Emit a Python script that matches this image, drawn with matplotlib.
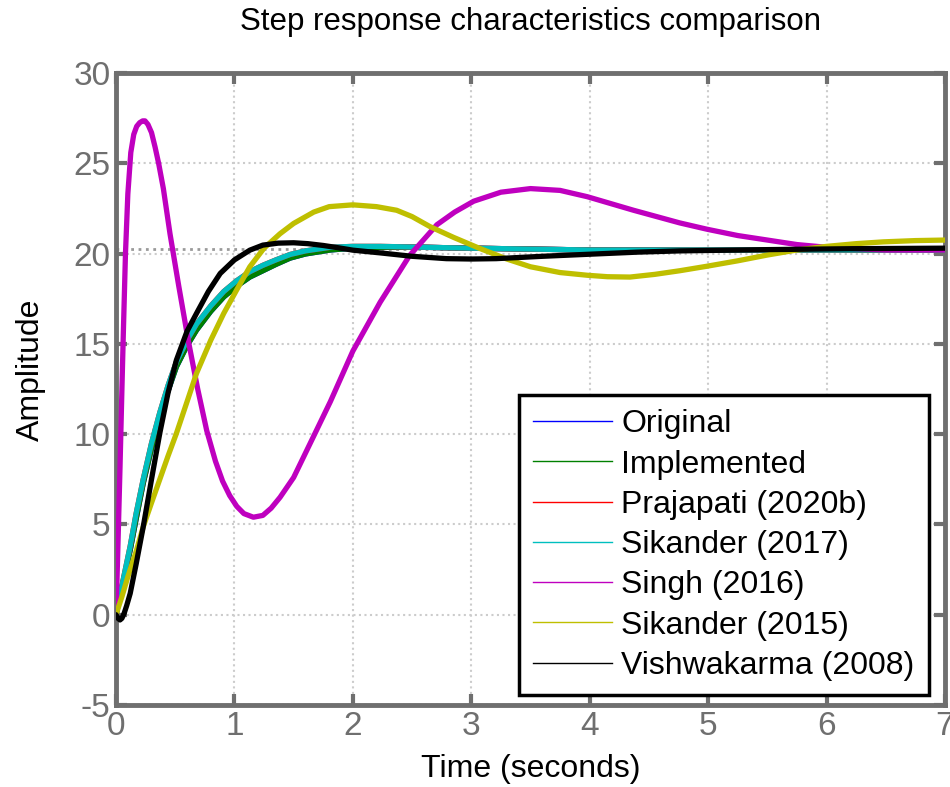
import matplotlib
matplotlib.use("Agg")
import matplotlib.pyplot as plt
from matplotlib.lines import Line2D

plt.rcParams['font.family'] = ['Liberation Sans', 'DejaVu Sans']
plt.rcParams['axes.unicode_minus'] = False

# step responses
t_impl = [0, 0.05, 0.12, 0.17, 0.23, 0.3, 0.37, 0.44, 0.51, 0.6, 0.68, 0.8, 0.91, 1.02,
          1.13, 1.24, 1.35, 1.47, 1.6, 1.81, 2.0, 2.23, 2.6, 3.0, 3.5, 4.0, 5.0, 6.0, 7.0]
y_orig = [0, 1.5, 3.58, 5.3, 7.28, 9.2, 10.96, 12.4, 13.73, 14.9, 15.76, 16.8, 17.6, 18.2,
          18.7, 19.05, 19.4, 19.75, 19.98, 20.2, 20.3, 20.35, 20.35, 20.3, 20.25, 20.2, 20.2, 20.2, 20.2]
y_impl = [0, 1.5, 3.58, 5.3, 7.28, 9.2, 10.96, 12.4, 13.73, 14.9, 15.76, 16.8, 17.6, 18.2,
          18.7, 19.05, 19.4, 19.75, 19.98, 20.2, 20.3, 20.35, 20.35, 20.3, 20.25, 20.2, 20.2, 20.2, 20.2]
y_praj = [0, 1.6, 3.8, 5.6, 7.5, 9.5, 11.2, 12.7, 14.0, 15.2, 16.1, 17.1, 17.9, 18.5,
          19.0, 19.35, 19.65, 19.95, 20.15, 20.35, 20.4, 20.4, 20.35, 20.3, 20.25, 20.2, 20.2, 20.2, 20.2]
y_sik17 = [0, 1.6, 3.8, 5.6, 7.5, 9.5, 11.2, 12.7, 14.0, 15.2, 16.1, 17.1, 17.9, 18.5,
           19.0, 19.35, 19.65, 19.95, 20.15, 20.35, 20.4, 20.4, 20.35, 20.3, 20.25, 20.2, 20.2, 20.2, 20.2]

t_singh = [0, 0.015, 0.034, 0.05, 0.062, 0.08, 0.1, 0.125, 0.15, 0.175, 0.2, 0.225, 0.245,
           0.27, 0.3, 0.33, 0.36, 0.4, 0.456, 0.53, 0.61, 0.69, 0.766, 0.84, 0.9, 0.96,
           1.02, 1.08, 1.16, 1.24, 1.31, 1.385, 1.5, 1.67, 1.81, 2.0, 2.23, 2.48, 2.71,
           2.86, 3.02, 3.25, 3.5, 3.75, 3.98, 4.37, 4.76, 4.99, 5.25, 5.5, 5.75, 6.0, 6.5, 7.0]
y_singh = [0, 3.5, 8.2, 12.5, 15.6, 20.0, 23.3, 25.6, 26.6, 27.05, 27.25, 27.35, 27.35,
           27.15, 26.7, 25.9, 25.0, 23.6, 21.1, 18.2, 15.2, 12.5, 10.2, 8.5, 7.4, 6.6,
           6.0, 5.6, 5.4, 5.5, 5.9, 6.5, 7.6, 9.9, 11.8, 14.6, 17.3, 19.9, 21.6,
           22.3, 22.9, 23.4, 23.6, 23.5, 23.15, 22.4, 21.7, 21.35, 21.0, 20.75, 20.5, 20.35, 20.2, 20.2]

t_sik15 = [0, 0.05, 0.1, 0.17, 0.23, 0.3, 0.37, 0.44, 0.51, 0.6, 0.68, 0.8, 0.91, 1.02,
           1.13, 1.25, 1.385, 1.5, 1.67, 1.8, 2.0, 2.2, 2.37, 2.5, 2.65, 2.85, 3.07, 3.3,
           3.5, 3.75, 3.98, 4.15, 4.34, 4.55, 4.76, 4.99, 5.25, 5.5, 5.75, 6.0, 6.25, 6.48, 6.75, 7.0]
y_sik15 = [0, 1.0, 2.1, 3.5, 4.87, 6.2, 7.5, 8.8, 10.04, 11.8, 13.37, 15.2, 16.69, 18.0,
           19.27, 20.3, 21.1, 21.67, 22.3, 22.6, 22.7, 22.6, 22.4, 22.05, 21.5, 20.9, 20.29, 19.7,
           19.27, 18.95, 18.8, 18.72, 18.7, 18.85, 19.05, 19.3, 19.6, 19.92, 20.2, 20.4, 20.55, 20.65, 20.72, 20.75]

t_vish = [0, 0.02, 0.034, 0.05, 0.07, 0.09, 0.12, 0.17, 0.23, 0.3, 0.37, 0.44, 0.51, 0.6,
          0.68, 0.78, 0.88, 1.0, 1.13, 1.24, 1.37, 1.5, 1.62, 1.75, 1.88, 2.0, 2.23, 2.5,
          2.79, 3.0, 3.21, 3.6, 3.98, 4.4, 4.76, 5.5, 6.2, 7.0]
y_vish = [0, -0.22, -0.29, -0.2, 0.1, 0.5, 1.18, 2.8, 4.87, 7.5, 10.06, 12.3, 14.1, 15.7,
          16.69, 17.9, 18.9, 19.65, 20.19, 20.47, 20.58, 20.6, 20.55, 20.45, 20.32, 20.19, 20.04, 19.85,
          19.72, 19.7, 19.72, 19.85, 19.96, 20.08, 20.15, 20.22, 20.27, 20.3]

labels = ["Original", "Implemented", "Prajapati (2020b)", "Sikander (2017)",
          "Singh (2016)", "Sikander (2015)", "Vishwakarma (2008)"]
colors = ["#0000ff", "#008000", "#ff0000", "#00bfbf", "#bf00bf", "#bfbf00", "#000000"]
y_final = 20.25

fig = plt.figure(figsize=(9.5, 7.87), dpi=100)
ax = fig.add_axes([0.1221, 0.1042, 0.8726, 0.803])

series = [(t_impl, y_orig), (t_impl, y_impl), (t_impl, y_praj), (t_impl, y_sik17),
          (t_singh, y_singh), (t_sik15, y_sik15), (t_vish, y_vish)]
for (tt, yy), c in zip(series, colors):
    ax.plot(tt, yy, color=c, lw=3.8, solid_joinstyle='round', solid_capstyle='round', zorder=3)

ax.axhline(y_final, color='#9a9a9a', ls=':', lw=2.0, zorder=2)

ax.set_xlim(0, 7)
ax.set_ylim(-5, 30)
ax.set_xticks(range(0, 8))
ax.set_yticks(range(-5, 31, 5))
ax.grid(True, color='#cccccc', ls=':', lw=1.5)
ax.set_axisbelow(True)

for s in ax.spines.values():
    s.set_color('#6f6f6f')
    s.set_linewidth(3.5)
ax.tick_params(direction='in', length=8, width=3, color='#6f6f6f', labelcolor='#6f6f6f',
               labelsize=24, top=True, right=True, pad=4)

ax.set_title("Step response characteristics comparison", fontsize=22.5, pad=31)
ax.set_xlabel("Time (seconds)", fontsize=23, labelpad=9)
ax.set_ylabel("Amplitude", fontsize=23)
ax.yaxis.set_label_coords(-0.085, 0.53)

handles = [Line2D([], [], color=c, lw=1.0) for c in colors]
leg = ax.legend(handles, labels, loc='upper left', bbox_to_anchor=(0.486, 0.4905),
                borderaxespad=0, fontsize=23, handlelength=2.45, handletextpad=0.3,
                labelspacing=0.32, borderpad=0.45, fancybox=False, framealpha=1)
leg.get_frame().set_edgecolor('black')
leg.get_frame().set_linewidth(2.5)
leg.set_zorder(5)

fig.savefig("out.png", dpi=100)
